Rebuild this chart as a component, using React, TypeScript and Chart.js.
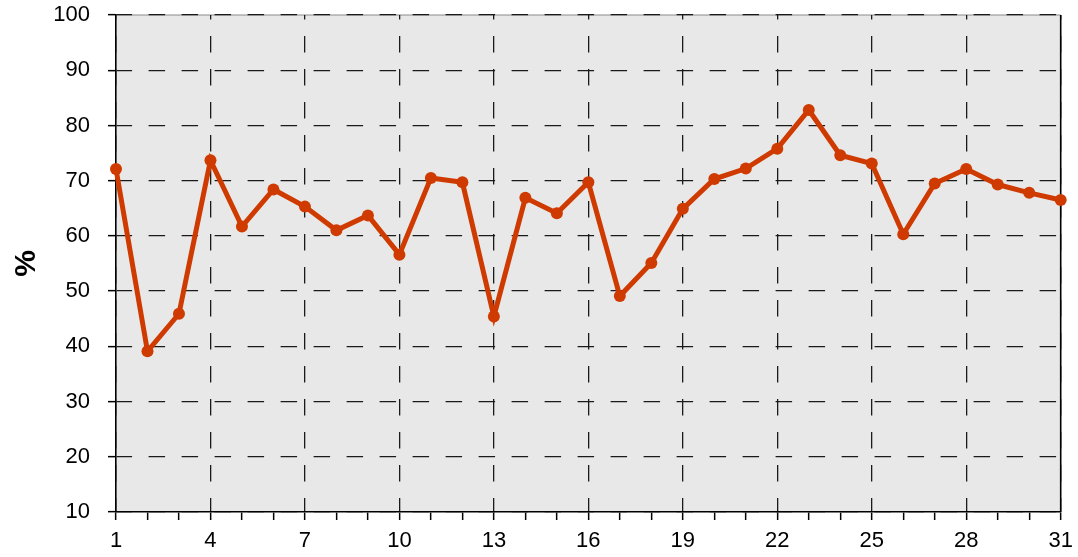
import React, { useEffect, useRef } from "react";
import { Chart, registerables } from "chart.js";

Chart.register(...registerables);

const days = [1, 2, 3, 4, 5, 6, 7, 8, 9, 10, 11, 12, 13, 14, 15, 16, 17, 18, 19, 20, 21, 22, 23, 24, 25, 26, 27, 28, 29, 30, 31];
const percentValues = [
  72.1, 39.1, 45.9, 73.7, 61.7, 68.4, 65.3, 61.0, 63.7, 56.6,
  70.5, 69.7, 45.4, 66.9, 64.1, 69.7, 49.1, 55.1, 64.9, 70.3,
  72.2, 75.8, 82.8, 74.6, 73.1, 60.3, 69.5, 72.1, 69.3, 67.8, 66.5,
];
const yMin = 10;
const yMax = 100;
const yStep = 10;
const xLabelEvery = 3;
const yTitle = "%";

const FONT = "'Liberation Sans', Arial, Helvetica, sans-serif";

const plotFrame = {
  id: "plotFrame",
  beforeDraw(chart: any) {
    const { ctx, chartArea } = chart;
    if (!chartArea) return;
    const { left, top, right, bottom } = chartArea;
    ctx.save();
    ctx.fillStyle = "#e8e8e8";
    ctx.fillRect(left, top, right - left, bottom - top);
    ctx.strokeStyle = "#8a8a8a";
    ctx.lineWidth = 1;
    ctx.beginPath();
    ctx.moveTo(left, top);
    ctx.lineTo(right, top);
    ctx.stroke();
    ctx.restore();
  },
  beforeDatasetsDraw(chart: any) {
    const { ctx, chartArea } = chart;
    const { top, right, bottom } = chartArea;
    ctx.save();
    ctx.strokeStyle = "#000";
    ctx.lineWidth = 1.6;
    ctx.beginPath();
    ctx.moveTo(right, top);
    ctx.lineTo(right, bottom);
    ctx.stroke();
    ctx.restore();
  },
};

export default function App() {
  const ref = useRef<HTMLCanvasElement | null>(null);

  useEffect(() => {
    document.body.style.margin = "0";
    const canvas = ref.current;
    if (!canvas) return;
    const chart = new Chart(canvas, {
      type: "line",
      data: {
        datasets: [
          {
            data: days.map((d, i) => ({ x: d, y: percentValues[i] })),
            borderColor: "#cf3a00",
            backgroundColor: "#cf3a00",
            borderWidth: 5,
            pointRadius: 6,
            pointBorderWidth: 0,
            pointHoverRadius: 6,
            tension: 0,
            clip: false as any,
          },
        ],
      },
      options: {
        responsive: false,
        animation: false,
        events: [],
        layout: { padding: { top: 15, right: 17.3, left: 0, bottom: 0 } },
        plugins: {
          legend: { display: false },
          tooltip: { enabled: false },
          title: { display: false },
        },
        scales: {
          x: {
            type: "linear",
            min: days[0],
            max: days[days.length - 1],
            afterFit: (s: any) => {
              s.height = 45;
              s.paddingLeft = 0;
              s.paddingRight = 0;
            },
            ticks: {
              stepSize: 1,
              autoSkip: false,
              maxRotation: 0,
              padding: 8,
              color: "#000",
              font: { family: FONT, size: 22 },
              callback: (v: any) => ((Number(v) - days[0]) % xLabelEvery === 0 ? String(v) : ""),
            },
            grid: {
              color: (c: any) =>
                c.tick && (c.tick.value - days[0]) % xLabelEvery === 0 ? "#1a1a1a" : "rgba(0,0,0,0)",
              lineWidth: 1.3,
              tickLength: 8,
              tickColor: "#000",
              tickWidth: 1.5,
            },
            border: { display: true, color: "#000", width: 1.6, dash: [16.5, 16.5], dashOffset: 12 },
          },
          y: {
            type: "linear",
            min: yMin,
            max: yMax,
            afterFit: (s: any) => {
              s.width = 116;
              s.paddingTop = 0;
              s.paddingBottom = 0;
            },
            ticks: {
              stepSize: yStep,
              padding: 18,
              color: "#000",
              font: { family: FONT, size: 22 },
            },
            grid: {
              color: "#1a1a1a",
              lineWidth: 1.3,
              tickLength: 8,
              tickColor: "#000",
              tickWidth: 1.5,
            },
            border: { display: true, color: "#000", width: 1.6, dash: [16.5, 16.5], dashOffset: 1 },
            title: {
              display: true,
              text: yTitle,
              color: "#000",
              font: { family: FONT, size: 30, weight: "bold" },
              padding: { top: 9, bottom: 0 },
            },
          },
        },
      },
      plugins: [plotFrame],
    });
    return () => chart.destroy();
  }, []);

  return (
    <div style={{ width: 1078, height: 557 }}>
      <canvas ref={ref} width={1078} height={557} style={{ display: "block" }} />
    </div>
  );
}
